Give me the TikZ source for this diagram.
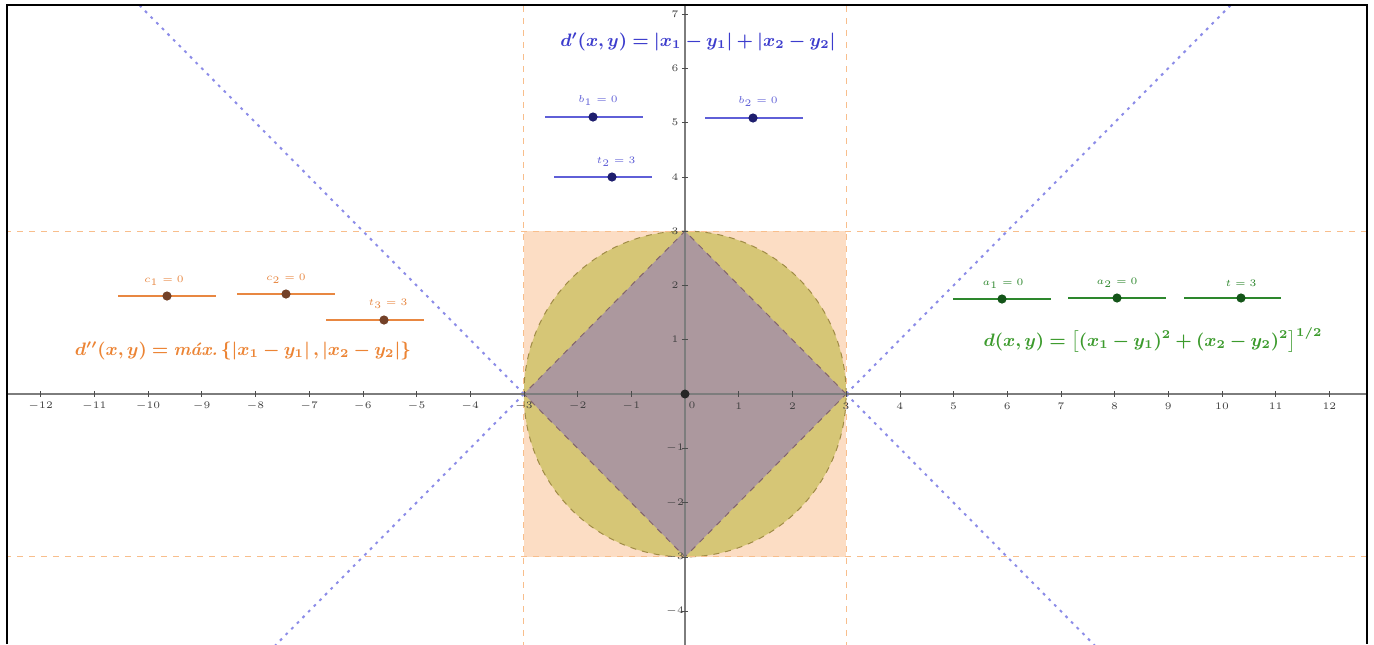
\documentclass[tikz,border=0pt]{standalone}
\usepackage{amsmath,bm}
\definecolor{peach}{RGB}{252,221,196}
\definecolor{olivefill}{RGB}{214,198,118}
\definecolor{oliveline}{RGB}{160,140,70}
\definecolor{mauve}{RGB}{172,152,158}
\definecolor{mauveline}{RGB}{130,100,110}
\definecolor{orgdash}{RGB}{248,190,140}
\definecolor{diag}{RGB}{140,140,232}
\definecolor{axisgray}{RGB}{125,125,125}
\definecolor{blueF}{RGB}{60,60,205}
\definecolor{orangeF}{RGB}{236,132,52}
\definecolor{greenF}{RGB}{60,155,45}
\definecolor{blueK}{RGB}{30,30,110}
\definecolor{orangeK}{RGB}{115,65,40}
\definecolor{greenK}{RGB}{20,85,25}
\definecolor{blueS}{RGB}{95,95,215}
\definecolor{orangeS}{RGB}{232,135,65}
\definecolor{greenS}{RGB}{45,135,45}
\tikzset{
  sliderline/.style={line width=0.8pt},
  knob/.style={circle, fill, inner sep=0pt, minimum size=4.6pt},
  slab/.style={font=\fontsize{5}{6}\selectfont, inner sep=0pt},
  ticklab/.style={font=\fontsize{5.5}{6}\selectfont, text=black!75, inner sep=0pt},
  orangeguide/.style={draw=orgdash, dashed, line width=0.5pt},
  diagline/.style={draw=diag, line width=1pt, dash pattern=on 1.4pt off 2.6pt},
  formula/.style={inner sep=0pt, font=\fontsize{9}{11}\selectfont}
}
\begin{document}
\begin{tikzpicture}[x=0.5pt,y=-0.5pt]
\useasboundingbox (0,0) rectangle (1374,644);
\fill[white] (0,0) rectangle (1374,644);
\begin{scope}
\clip (8,6) rectangle (1366,644);
\begin{scope}[shift={(685,394)}, x=26.85pt, y=27.15pt]
  % square
  \fill[peach] (-3,-3) rectangle (3,3);
  % circle
  \fill[olivefill] (0,0) circle[radius=3];
  \draw[oliveline, dashed, line width=0.5pt] (0,0) circle[radius=3];
  % diamond
  \fill[mauve] (3,0) -- (0,3) -- (-3,0) -- (0,-3) -- cycle;
  \draw[mauveline, dashed, line width=0.5pt] (3,0) -- (0,3) -- (-3,0) -- (0,-3) -- cycle;
  % orange guides
  \draw[orangeguide] (-3,-6) -- (-3,8);
  \draw[orangeguide] (3,-6) -- (3,8);
  \draw[orangeguide] (-14,3) -- (14,3);
  \draw[orangeguide] (-14,-3) -- (14,-3);
  % diagonals
  \coordinate (L) at (-3,0);
  \coordinate (R) at (3,0);
  \coordinate (UL) at (-11,8);
  \coordinate (DL) at (-9,-6);
  \coordinate (UR) at (11,8);
  \coordinate (DR) at (9,-6);
  \draw[diagline] (L) -- (UL);
  \draw[diagline] (L) -- (DL);
  \draw[diagline] (R) -- (UR);
  \draw[diagline] (R) -- (DR);
  % axes
  \draw[axisgray, line width=0.9pt] (-14,0) -- (14,0);
  \draw[axisgray, line width=0.9pt] (0,-6) -- (0,8);
  \foreach \i in {-12,...,-1,1,2,...,12} {
    \draw[black!70, line width=0.3pt] (\i,-0.05) -- (\i,0.05);
    \node[ticklab] (xl\i) at ([yshift=-6pt]\i,0) {$\i$};
  }
  \foreach \j in {-4,...,-1,1,2,...,7} {
    \draw[black!70, line width=0.3pt] (-0.06,\j) -- (0.06,\j);
    \node[ticklab] (yl\j) at ([xshift=-5pt]0,\j) {$\j$};
  }
  \node[ticklab] (zero) at ([xshift=3.5pt,yshift=-5.5pt]0,0) {$0$};
  \node[circle, fill=black!85, inner sep=0pt, minimum size=4.5pt] (O) at (0,0) {};
\end{scope}
\end{scope}
% frame
\draw[black, line width=1.2pt] (7,644) -- (7,5) -- (1367,5) -- (1367,644);

% blue sliders
\draw[blueS, sliderline] (545,117) -- (643,117);
\node[knob, blueK] (b1) at (593,117) {};
\node[slab, text=blueS] (b1l) at (598,101) {$b_1 = 0$};
\draw[blueS, sliderline] (705,118) -- (803,118);
\node[knob, blueK] (b2) at (753,118) {};
\node[slab, text=blueS] (b2l) at (758,102) {$b_2 = 0$};
\draw[blueS, sliderline] (554,177) -- (652,177);
\node[knob, blueK] (t2) at (612,177) {};
\node[slab, text=blueS] (t2l) at (616,162) {$t_2 = 3$};
\node[formula, text=blueF] (fb) at (698,42) {$\boldsymbol{d'(x,y)=|x_1-y_1|+|x_2-y_2|}$};

% orange sliders
\draw[orangeS, sliderline] (118,296) -- (216,296);
\node[knob, orangeK] (c1) at (167,296) {};
\node[slab, text=orangeS] (c1l) at (164,281) {$c_1 = 0$};
\draw[orangeS, sliderline] (237,294) -- (335,294);
\node[knob, orangeK] (c2) at (286,294) {};
\node[slab, text=orangeS] (c2l) at (286,279) {$c_2 = 0$};
\draw[orangeS, sliderline] (326,320) -- (424,320);
\node[knob, orangeK] (t3) at (384,320) {};
\node[slab, text=orangeS] (t3l) at (388,304) {$t_3 = 3$};
\node[formula, text=orangeF] (fo) at (243,351) {$\boldsymbol{d''(x,y)=\textbf{\textit{m\'ax.}}\,\{|x_1-y_1|\,,|x_2-y_2|\}}$};

% green sliders
\draw[greenS, sliderline] (953,299) -- (1051,299);
\node[knob, greenK] (a1) at (1002,299) {};
\node[slab, text=greenS] (a1l) at (1003,284) {$a_1 = 0$};
\draw[greenS, sliderline] (1068,298) -- (1166,298);
\node[knob, greenK] (a2) at (1117,298) {};
\node[slab, text=greenS] (a2l) at (1117,283) {$a_2 = 0$};
\draw[greenS, sliderline] (1184,298) -- (1281,298);
\node[knob, greenK] (t1) at (1241,298) {};
\node[slab, text=greenS] (t1l) at (1241,283) {$t = 3$};
\node[formula, text=greenF] (fg) at (1153,340) {$\boldsymbol{d(x,y)=\bigl[(x_1-y_1)^2+(x_2-y_2)^2\bigr]^{1/2}}$};
\end{tikzpicture}
\end{document}
